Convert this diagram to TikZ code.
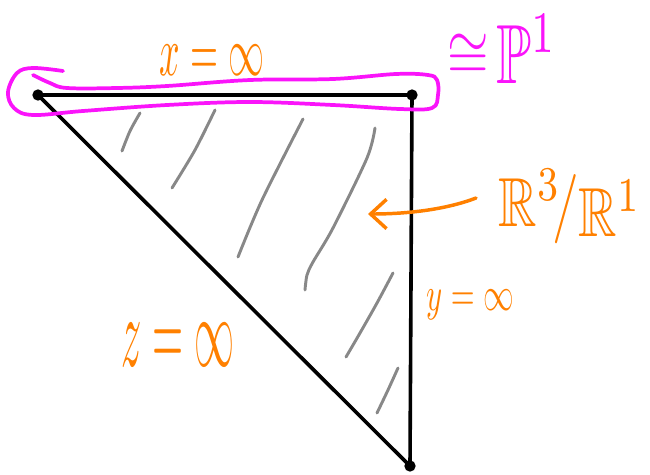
\documentclass[tikz,border=0pt]{standalone}
\usepackage{amssymb}
\usepackage{graphicx}
\usetikzlibrary{arrows.meta}
\definecolor{inkorange}{RGB}{255,128,0}
\definecolor{inkmagenta}{RGB}{250,20,250}
\definecolor{inkgray}{RGB}{136,136,136}
\begin{document}
\begin{tikzpicture}[x=0.75pt,y=-0.75pt,
  edge/.style={line width=2.7pt, black, line join=round},
  vtx/.style={circle, fill=black, inner sep=0pt, minimum size=8.5pt},
  hatch/.style={inkgray, line width=2.2pt, line cap=round},
  loopline/.style={inkmagenta, line width=2.8pt, line cap=round, line join=round},
  olabel/.style={text=inkorange, inner sep=0pt},
  mlabel/.style={text=inkmagenta, inner sep=0pt},
  arrowline/.style={inkorange, line width=2.6pt, line cap=round,
     -{Straight Barb[length=12pt,width=22pt,line width=2.6pt]}}]
\useasboundingbox (0,0) rectangle (650,475);
% hatching
\draw[hatch] plot[smooth] coordinates {(140,113) (130,131) (122,151)};
\draw[hatch] plot[smooth] coordinates {(215,110) (195,150) (172,188)};
\draw[hatch] plot[smooth] coordinates {(303,119) (262,200) (238,257)};
\draw[hatch] plot[smooth] coordinates {(375,128) (367,158) (333,228) (313,262) (307,275) (305,290)};
\draw[hatch] plot[smooth] coordinates {(393,273) (377,303) (360,333) (346,357)};
\draw[hatch] plot[smooth] coordinates {(398,368) (388,390) (377,413)};
% triangle
\node[vtx] (A) at (38,95) {};
\node[vtx] (B) at (412,95) {};
\node[vtx] (C) at (410,466) {};
\draw[edge] (A.center) -- (B.center) -- (C.center) -- cycle;
% magenta loop
\draw[loopline] plot[smooth, tension=0.6] coordinates {(63,71) (33,68) (17,73) (8,92) (14,108) (33,115)
  (83,111) (167,105) (250,102) (333,105) (400,109) (432,108) (438,95) (437,80) (428,75) (396,74)
  (333,79) (250,80) (167,86) (117,88) (67,88) (50,83) (33,75)};
% labels
\node[olabel, anchor=base] (xlab) at (212,75) {\scalebox{2.7}[5.3]{$x=\infty$}};
\node[mlabel, anchor=base west] (plab) at (447,83) {\raisebox{5pt}{\scalebox{4.0}[5.0]{$\cong$}}\hspace{6pt}\scalebox{4.3}[6.3]{$\mathbb{P}^1$}};
\node[olabel, anchor=base] (rlab) at (570,226) {\scalebox{4.0}[5.2]{$\mathbb{R}^3\!/\raisebox{-1.5pt}{$\mathbb{R}^1$}$}};
\node[olabel, anchor=base] (ylab) at (470,310) {\scalebox{2.3}[3.6]{$y=\infty$}};
\node[olabel, anchor=base] (zlab) at (178,366) {\scalebox{3.0}[7.5]{$z=\infty$}};
% arrow
\coordinate (astart) at (476,198);
\coordinate (tip) at (368,214);
\draw[arrowline] (astart) .. controls (445,210) and (405,214) .. (tip);
\end{tikzpicture}
\end{document}
